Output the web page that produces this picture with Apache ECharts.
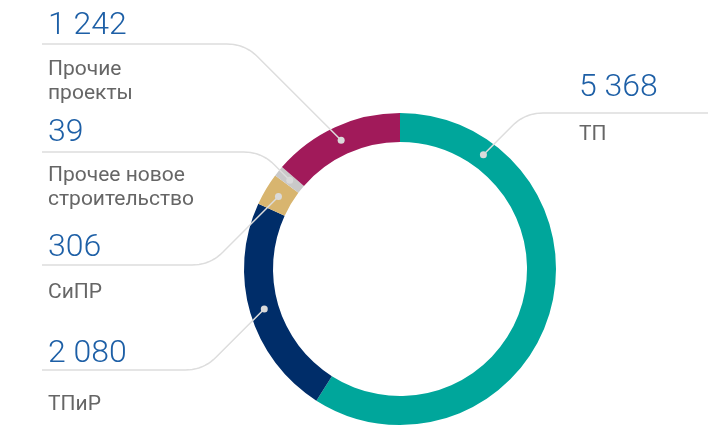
<!DOCTYPE html>
<html>
<head>
<meta charset="utf-8">
<script src="https://cdn.jsdelivr.net/npm/echarts@6/dist/echarts.min.js"></script>
<style>
  html, body { margin: 0; padding: 0; background: #fff; }
  #chart { width: 722px; height: 425px; }
</style>
</head>
<body>
<div id="chart"></div>
<script>
const categories = ['ТП', 'ТПиР', 'СиПР', 'Прочее новое\nстроительство', 'Прочие\nпроекты']
const values = [5368, 2080, 306, 39, 1242]
const valueLabels = ['5 368', '2 080', '306', '39', '1 242']
const colors = ['#00a69b', '#002d69', '#d8b56f', '#c9c9c9', '#a11a5a']

// caption placement: text x, centre of number, underline y, first name line, where the dot sits in the slice
const slots = [
  {side: 'right', x: 579, numY: 86, lineY: 113, nameY: 135, lineEnd: 708, at: 0.17},
  {side: 'left', x: 48, numY: 352, lineY: 370, nameY: 405, lineEnd: 42, at: 0.5},
  {side: 'left', x: 48, numY: 246, lineY: 265, nameY: 293, lineEnd: 42, at: 0.5},
  {side: 'left', x: 48, numY: 131, lineY: 152, nameY: 176, lineEnd: 42, at: 0.5},
  {side: 'left', x: 48, numY: 24, lineY: 44, nameY: 70, lineEnd: 42, at: 0.5},
]

const chart = echarts.init(document.getElementById('chart'))

chart.setOption({
  animation: false,
  color: colors,
  series: [{
    type: 'pie',
    center: [400, 269],
    radius: [127, 156],
    startAngle: 90,
    minAngle: 4,
    clockwise: true,
    silent: true,
    label: {show: false},
    labelLine: {show: false},
    data: categories.map((name, i) => ({name, value: values[i]})),
  }],
})

// leader lines, dots and captions placed from the pie's own layout
const data = chart.getModel().getSeriesByIndex(0).getData()
const graphics = []
const corner = 18

slots.forEach((s, i) => {
  const lay = data.getItemLayout(i)
  const a = lay.startAngle + (lay.endAngle - lay.startAngle) * s.at
  const rm = (lay.r + lay.r0) / 2
  const dx = lay.cx + rm * Math.cos(a)
  const dy = lay.cy + rm * Math.sin(a)
  const dir = s.side === 'left' ? -1 : 1
  const ex = dx + dir * Math.abs(s.lineY - dy)
  const ey = s.lineY

  // rounded elbow
  const hx = s.lineEnd - ex, hl = Math.abs(hx)
  const ax = ex + hx / hl * corner, ay = ey
  const vx = dx - ex, vy = dy - ey, vl = Math.hypot(vx, vy)
  const bx = ex + vx / vl * corner, by = ey + vy / vl * corner
  const pts = [[s.lineEnd, ey]]
  for (let t = 0; t <= 1.0001; t += 0.1) {
    const u = 1 - t
    pts.push([u * u * ax + 2 * u * t * ex + t * t * bx, u * u * ay + 2 * u * t * ey + t * t * by])
  }
  pts.push([dx, dy])

  graphics.push({
    type: 'polyline', z: 10, silent: true,
    shape: {points: pts},
    style: {stroke: '#dddddd', lineWidth: 1.5, fill: null},
  })
  graphics.push({
    type: 'circle', z: 11, silent: true,
    shape: {cx: dx, cy: dy, r: 3.5},
    style: {fill: '#dadada'},
  })
  graphics.push({
    type: 'text', z: 11, silent: true,
    x: s.x, y: s.numY + 2,
    style: {
      text: valueLabels[i], fill: '#1d5fa6',
      font: '300 32px Roboto', verticalAlign: 'middle', align: 'left',
    },
  })
  graphics.push({
    type: 'text', z: 11, silent: true,
    x: s.x, y: s.nameY - 12,
    style: {
      text: categories[i], fill: '#666666',
      font: '21px Roboto', lineHeight: 24, verticalAlign: 'top', align: 'left',
    },
  })
})

chart.setOption({graphic: graphics})
</script>
</body>
</html>
